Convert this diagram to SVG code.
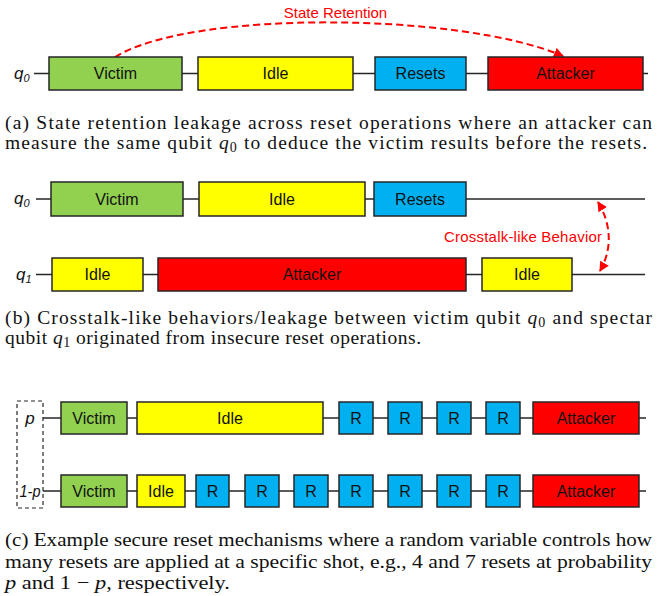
<svg xmlns="http://www.w3.org/2000/svg" width="657" height="596" viewBox="0 0 657 596">
<defs>
<style>
.wire{stroke:#262626;stroke-width:1.6;fill:none}
.box{stroke:#262626;stroke-width:1.5}
.g{fill:#92D050}.y{fill:#FFFF00}.b{fill:#00B0F0}.r{fill:#FF0000}
.lbl{font-family:"Liberation Sans",Arial,sans-serif;font-size:16px;fill:#111;text-anchor:middle}
.q{font-family:"Liberation Sans",Arial,sans-serif;font-size:17px;font-style:italic;fill:#111}
.red{font-family:"Liberation Sans",Arial,sans-serif;font-size:15px;fill:#FF0000}
.dash{stroke:#FF0000;stroke-width:2;stroke-dasharray:7,4;fill:none}
.cap{font-family:"Liberation Serif","Times New Roman",serif;font-size:19.5px;fill:#111}
</style>
<marker id="ah" viewBox="0 0 10 10" refX="9" refY="5" markerWidth="5" markerHeight="5" orient="auto-start-reverse" markerUnits="strokeWidth">
<path d="M0,0 L10,5 L0,10 z" fill="#FF0000"/>
</marker>
</defs>

<!-- connectors -->
<g id="connectors">
<line class="wire" x1="34" y1="73.5" x2="648" y2="73.5"/>
<path class="dash" d="M115,57 C190,10 460,12 563,56" marker-end="url(#ah)"/>
<line class="wire" x1="36" y1="199" x2="645" y2="199"/>
<line class="wire" x1="36" y1="274.5" x2="645" y2="274.5"/>
<path class="dash" d="M598,202 C612,225 612,250 600,271" marker-start="url(#ah)" marker-end="url(#ah)"/>
<line class="wire" x1="43" y1="418" x2="646" y2="418"/>
<line class="wire" x1="43" y1="491" x2="646" y2="491"/>
</g>

<!-- (a) -->
<g id="a-q0"><text class="q" x="14" y="79">q<tspan font-size="11" dy="3">0</tspan></text></g>
<g id="a-victim"><rect class="box g" x="49" y="57" width="133" height="33"/><text class="lbl" x="115.5" y="79">Victim</text></g>
<g id="a-idle"><rect class="box y" x="198" y="57" width="155" height="33"/><text class="lbl" x="275.5" y="79">Idle</text></g>
<g id="a-resets"><rect class="box b" x="375" y="57" width="91" height="33"/><text class="lbl" x="420.5" y="79">Resets</text></g>
<g id="a-attacker"><rect class="box r" x="488" y="57" width="155" height="33"/><text class="lbl" x="565.5" y="79">Attacker</text></g>
<g id="a-label"><text class="red" x="335.5" y="18" text-anchor="middle">State Retention</text></g>
<g id="cap-a">
<text class="cap" x="5" y="129" textLength="647" lengthAdjust="spacing">(a) State retention leakage across reset operations where an attacker can</text>
<text class="cap" x="5" y="149" textLength="642" lengthAdjust="spacing">measure the same qubit <tspan font-style="italic">q</tspan><tspan font-size="14" dy="3">0</tspan><tspan dy="-3"> to deduce the victim results before the resets.</tspan></text>
</g>

<!-- (b) -->
<g id="b-q0"><text class="q" x="14" y="204">q<tspan font-size="11" dy="3">0</tspan></text></g>
<g id="b-q1"><text class="q" x="16" y="280">q<tspan font-size="11" dy="3">1</tspan></text></g>
<g id="b-victim"><rect class="box g" x="51" y="182" width="132" height="34"/><text class="lbl" x="117" y="204.5">Victim</text></g>
<g id="b-idle0"><rect class="box y" x="199" y="182" width="166" height="34"/><text class="lbl" x="282" y="204.5">Idle</text></g>
<g id="b-resets"><rect class="box b" x="374" y="182" width="92" height="34"/><text class="lbl" x="420" y="204.5">Resets</text></g>
<g id="b-idle1"><rect class="box y" x="52" y="258" width="91" height="33"/><text class="lbl" x="97.5" y="280">Idle</text></g>
<g id="b-attacker"><rect class="box r" x="158" y="258" width="308" height="33"/><text class="lbl" x="312" y="280">Attacker</text></g>
<g id="b-idle2"><rect class="box y" x="482" y="258" width="90" height="33"/><text class="lbl" x="527" y="280">Idle</text></g>
<g id="b-label"><text class="red" x="444" y="242" textLength="158">Crosstalk-like Behavior</text></g>
<g id="cap-b">
<text class="cap" x="5" y="324" textLength="647" lengthAdjust="spacing">(b) Crosstalk-like behaviors/leakage between victim qubit <tspan font-style="italic">q</tspan><tspan font-size="14" dy="3">0</tspan><tspan dy="-3"> and spectar</tspan></text>
<text class="cap" x="5" y="344" textLength="416" lengthAdjust="spacing">qubit <tspan font-style="italic">q</tspan><tspan font-size="14" dy="3">1</tspan><tspan dy="-3"> originated from insecure reset operations.</tspan></text>
</g>

<!-- (c) -->
<g id="c-prob">
<rect x="17" y="401" width="26" height="107" fill="#fff" stroke="#262626" stroke-width="1.2" stroke-dasharray="4,3"/>
<text class="q" x="30" y="424" text-anchor="middle">p</text>
<text class="q" x="30" y="497" text-anchor="middle" font-size="15" textLength="21" lengthAdjust="spacingAndGlyphs">1-p</text>
</g>
<g id="c-victim1"><rect class="box g" x="61" y="402" width="66" height="32"/><text class="lbl" x="94" y="424">Victim</text></g>
<g id="c-idle1"><rect class="box y" x="137" y="402" width="186" height="32"/><text class="lbl" x="230" y="424">Idle</text></g>
<g id="c-r1a"><rect class="box b" x="339" y="402" width="34" height="32"/><text class="lbl" x="356" y="424">R</text></g>
<g id="c-r1b"><rect class="box b" x="388" y="402" width="34" height="32"/><text class="lbl" x="405" y="424">R</text></g>
<g id="c-r1c"><rect class="box b" x="437" y="402" width="34" height="32"/><text class="lbl" x="454" y="424">R</text></g>
<g id="c-r1d"><rect class="box b" x="486" y="402" width="34" height="32"/><text class="lbl" x="503" y="424">R</text></g>
<g id="c-att1"><rect class="box r" x="533" y="402" width="106" height="32"/><text class="lbl" x="586" y="424">Attacker</text></g>

<g id="c-victim2"><rect class="box g" x="61" y="475" width="66" height="32"/><text class="lbl" x="94" y="497">Victim</text></g>
<g id="c-idle2"><rect class="box y" x="137" y="475" width="48" height="32"/><text class="lbl" x="161" y="497">Idle</text></g>
<g id="c-r2a"><rect class="box b" x="196" y="475" width="33" height="32"/><text class="lbl" x="212.5" y="497">R</text></g>
<g id="c-r2b"><rect class="box b" x="245" y="475" width="34" height="32"/><text class="lbl" x="262" y="497">R</text></g>
<g id="c-r2c"><rect class="box b" x="294" y="475" width="34" height="32"/><text class="lbl" x="311" y="497">R</text></g>
<g id="c-r2d"><rect class="box b" x="339" y="475" width="34" height="32"/><text class="lbl" x="356" y="497">R</text></g>
<g id="c-r2e"><rect class="box b" x="388" y="475" width="34" height="32"/><text class="lbl" x="405" y="497">R</text></g>
<g id="c-r2f"><rect class="box b" x="437" y="475" width="34" height="32"/><text class="lbl" x="454" y="497">R</text></g>
<g id="c-r2g"><rect class="box b" x="486" y="475" width="34" height="32"/><text class="lbl" x="503" y="497">R</text></g>
<g id="c-att2"><rect class="box r" x="533" y="475" width="106" height="32"/><text class="lbl" x="586" y="497">Attacker</text></g>

<g id="cap-c">
<text class="cap" x="5" y="546" textLength="647" lengthAdjust="spacingAndGlyphs">(c) Example secure reset mechanisms where a random variable controls how</text>
<text class="cap" x="5" y="568" textLength="647" lengthAdjust="spacingAndGlyphs">many resets are applied at a specific shot, e.g., 4 and 7 resets at probability</text>
<text class="cap" x="5" y="589" textLength="225" lengthAdjust="spacingAndGlyphs"><tspan font-style="italic">p</tspan> and 1 − <tspan font-style="italic">p</tspan>, respectively.</text>
</g>
</svg>
